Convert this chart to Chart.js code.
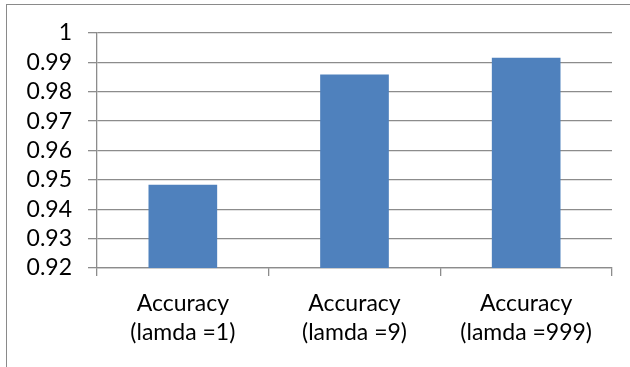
<!DOCTYPE html>
<html>
<head>
<meta charset="utf-8">
<script src="https://cdn.jsdelivr.net/npm/chart.js@4/dist/chart.umd.min.js"></script>
<style>
  html, body { margin: 0; padding: 0; background: #fff; overflow: hidden; }
  #frame {
    position: absolute; left: 6px; top: 4px; width: 700px; height: 500px;
    border-left: 1.5px solid #8a8a8a; border-top: 1.5px solid #8a8a8a;
  }
  #wrap { position: absolute; left: 0; top: 0; width: 630px; height: 367px; }
</style>
</head>
<body>
<div id="frame"></div>
<div id="wrap"><canvas id="c" width="630" height="367"></canvas></div>
<script>
// Accuracy for each lambda setting
const categories = [
  ['Accuracy', '(lamda =1)'],
  ['Accuracy', '(lamda =9)'],
  ['Accuracy', '(lamda =999)']
];
const accuracy = [0.9483, 0.9859, 0.9916];
const yMin = 0.92;
const yMax = 1;
const yStep = 0.01;

const gridGray = '#8c8c8c';
const font = { family: 'Lato, "Open Sans", sans-serif', size: 23 };

new Chart(document.getElementById('c'), {
  type: 'bar',
  data: {
    labels: categories,
    datasets: [{
      data: accuracy,
      backgroundColor: '#4f81bd',
      borderWidth: 0,
      barPercentage: 0.4,
      categoryPercentage: 1.0
    }]
  },
  options: {
    responsive: false,
    animation: false,
    devicePixelRatio: 1,
    layout: { padding: { left: 0, right: 18, top: 33, bottom: 0 } },
    plugins: { legend: { display: false }, tooltip: { enabled: false } },
    scales: {
      x: {
        offset: true,
        grid: {
          offset: true,
          drawOnChartArea: false,
          drawTicks: true,
          tickLength: 8,
          color: gridGray,
          lineWidth: 1.3
        },
        border: { display: true, color: gridGray, width: 1.3 },
        ticks: { color: '#000', font: { ...font, lineHeight: 1.25 }, padding: 13, maxRotation: 0, autoSkip: false },
        afterFit: (s) => { s.height = 367 - 268; }
      },
      y: {
        min: yMin,
        max: yMax,
        grid: { color: gridGray, lineWidth: 1.3, tickLength: 9, drawTicks: true },
        border: { display: true, color: gridGray, width: 1.3 },
        ticks: {
          stepSize: yStep,
          autoSkip: false,
          color: '#000',
          font: font,
          padding: 16,
          callback: (v) => String(Math.round(v * 100) / 100)
        },
        afterFit: (s) => { s.width = 97; }
      }
    }
  }
});
</script>
</body>
</html>
